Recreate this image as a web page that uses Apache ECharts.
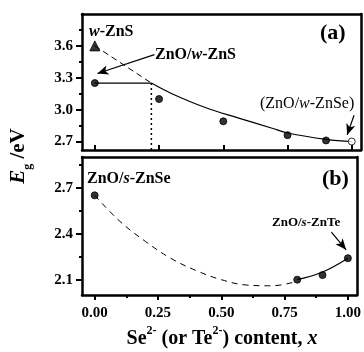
<!DOCTYPE html>
<html>
<head>
<meta charset="utf-8">
<script src="https://cdn.jsdelivr.net/npm/echarts@6/dist/echarts.min.js"></script>
<style>html,body{margin:0;padding:0;background:#fff}#c{width:364px;height:352px}</style>
</head>
<body>
<div id="c"></div>
<script>
// ---- data ----
var xTicks = [0, 0.25, 0.5, 0.75, 1.0];
var xMinorTicks = [0.125, 0.375, 0.625, 0.875];
var topYTicks = [2.7, 3.0, 3.3, 3.6];
var topYMinor = [2.85, 3.15, 3.45, 3.75];
var botYTicks = [2.1, 2.4, 2.7];
var botYMinor = [2.25, 2.55, 2.85];

// panel (a): ZnO/w-ZnS(1-x)Se(x)
var topPoints = [[0, 3.25], [0.25, 3.10], [0.5, 2.89], [0.75, 2.76], [0.9, 2.71]];
var topOpenPoint = [[1.0, 2.70]];
var wZnSPoint = [[0, 3.60]];
var topFitCurve = [[0.22, 3.25], [0.30, 3.15], [0.43, 3.02], [0.56, 2.92], [0.69, 2.825], [0.75, 2.78], [0.90, 2.72], [1.0, 2.70]];
var topDashed = [[0, 3.60], [0.22, 3.25]];
var topHoriz = [[0, 3.25], [0.22, 3.25]];
var topDotted = [[0.22, 3.25], [0.22, 2.62]];

// panel (b): ZnO/s-ZnSe(1-x)Te(x)
var botPoints = [[0, 2.65], [0.8, 2.10], [0.9, 2.13], [1.0, 2.24]];
var botDashedCurve = [[0, 2.65], [0.1, 2.48], [0.2, 2.35], [0.3, 2.24], [0.4, 2.16], [0.5, 2.10], [0.6, 2.065], [0.7, 2.06], [0.8, 2.09]];
var botSolidCurve = [[0.8, 2.10], [0.9, 2.15], [1.0, 2.24]];

var FONT = 'Liberation Serif';
var chart = echarts.init(document.getElementById('c'), null, {renderer: 'canvas'});
var frameLine = {show: true, onZero: false, lineStyle: {color: '#000', width: 2.5}};
var noLine = {show: false, onZero: false};

function xAxisCfg(grid, labels, inside, len, vals, pos, line) {
  return {
    type: 'value', gridIndex: grid, min: -0.05, max: 1.036, position: pos || 'bottom',
    axisLine: line ? frameLine : noLine, splitLine: {show: false},
    axisTick: {show: vals.length > 0, inside: inside, length: len, customValues: vals, lineStyle: {color: '#000', width: 2}},
    axisLabel: {show: labels, customValues: vals, margin: 11, color: '#000', fontFamily: FONT, fontWeight: 'bold', fontSize: 15,
      formatter: function (v) { return v.toFixed(2); }}
  };
}
function yAxisCfg(grid, min, max, labels, len, vals, pos, line) {
  return {
    type: 'value', gridIndex: grid, min: min, max: max, position: pos || 'left',
    axisLine: line ? frameLine : noLine, splitLine: {show: false},
    axisTick: {show: vals.length > 0, inside: false, length: len, customValues: vals, lineStyle: {color: '#000', width: 2}},
    axisLabel: {show: labels, customValues: vals, margin: 9, color: '#000', fontFamily: FONT, fontWeight: 'bold', fontSize: 15,
      formatter: function (v) { return v.toFixed(1); }}
  };
}

function lineS(x, y, data, type, width, smooth) {
  return {type: 'line', xAxisIndex: x, yAxisIndex: y, data: data, smooth: smooth || false, showSymbol: false, symbol: 'none',
    lineStyle: {color: '#000', width: width, type: type}, silent: true, animation: false, z: 2};
}
function dots(x, y, data, symbol, size, fill) {
  return {type: 'scatter', xAxisIndex: x, yAxisIndex: y, data: data, symbol: symbol, symbolSize: size,
    itemStyle: {color: fill, borderColor: '#000', borderWidth: 1}, silent: true, animation: false, z: 5};
}
function arrow(x, y, from, to) {
  return {type: 'line', xAxisIndex: x, yAxisIndex: y, data: [], silent: true, animation: false,
    markLine: {silent: true, animation: false, symbol: ['none', 'arrow'], symbolSize: [7, 11],
      lineStyle: {color: '#000', width: 1.2, type: 'solid'}, label: {show: false},
      data: [[{coord: from}, {coord: to}]]}};
}

function txt(x, y, text, rich, extra) {
  var s = Object.assign({x: x, y: y, text: text, verticalAlign: 'middle', fontFamily: FONT, fontWeight: 'bold', fontSize: 16, fill: '#000', rich: rich || {}}, extra || {});
  return {type: 'text', style: s, z: 10};
}
var richB = {
  b: {fontFamily: FONT, fontWeight: 'bold', fontSize: 16},
  i: {fontFamily: FONT, fontWeight: 'bold', fontStyle: 'italic', fontSize: 16}
};
var richR = {
  r: {fontFamily: FONT, fontWeight: 'normal', fontSize: 16},
  i: {fontFamily: FONT, fontWeight: 'normal', fontStyle: 'italic', fontSize: 16}
};
var richS = {
  b: {fontFamily: FONT, fontWeight: 'bold', fontSize: 13},
  i: {fontFamily: FONT, fontWeight: 'bold', fontStyle: 'italic', fontSize: 13}
};

var option = {
  backgroundColor: '#fff',
  animation: false,
  grid: [
    {left: 82, top: 14, right: 3, height: 136, show: false},
    {left: 82, top: 157, right: 3, height: 138, show: false}
  ],
  xAxis: [
    xAxisCfg(0, false, true, 5, xTicks, 'bottom', true),
    xAxisCfg(1, true, false, 5, xTicks, 'bottom', true),
    xAxisCfg(1, false, false, 3, xMinorTicks),
    xAxisCfg(0, false, false, 0, [], 'top', true),
    xAxisCfg(1, false, false, 0, [], 'top', true)
  ],
  yAxis: [
    yAxisCfg(0, 2.62, 3.9, true, 6, topYTicks, 'left', true),
    yAxisCfg(0, 2.62, 3.9, false, 3, topYMinor),
    yAxisCfg(1, 2.0, 2.9, true, 6, botYTicks, 'left', true),
    yAxisCfg(1, 2.0, 2.9, false, 3, botYMinor),
    yAxisCfg(0, 2.62, 3.9, false, 0, [], 'right', true),
    yAxisCfg(1, 2.0, 2.9, false, 0, [], 'right', true)
  ],
  series: [
    lineS(0, 0, topFitCurve, 'solid', 1.2, 0.4),
    lineS(0, 0, topDashed, [6, 4], 1, false),
    lineS(0, 0, topHoriz, 'solid', 1.2, false),
    lineS(0, 0, topDotted, [2, 3], 1.5, false),
    dots(0, 0, topPoints, 'circle', 7, '#000'),
    dots(0, 0, topOpenPoint, 'circle', 7, '#fff'),
    dots(0, 0, wZnSPoint, 'triangle', 10, '#000'),
    arrow(0, 0, [0.232, 3.518], [0.01, 3.34]),
    arrow(0, 0, [1.009, 2.947], [0.982, 2.762]),
    lineS(1, 2, botDashedCurve, [6, 5], 1, 0.4),
    lineS(1, 2, botSolidCurve, 'solid', 1.2, 0.4),
    dots(1, 2, botPoints, 'circle', 7, '#000'),
    arrow(1, 2, [0.935, 2.41], [0.993, 2.295])
  ],
  graphic: [
    txt(89, 32, '{i|w}{b|-ZnS}', richB),
    txt(155, 55, '{b|ZnO/}{i|w}{b|-ZnS}', richB),
    txt(320, 33, '(a)', null, {fontSize: 22}),
    txt(260, 104, '{r|(ZnO/}{i|w}{r|-ZnSe)}', richR),
    txt(87, 179, '{b|ZnO/}{i|s}{b|-ZnSe}', richB),
    txt(322, 179, '(b)', null, {fontSize: 22}),
    txt(272, 223, '{b|ZnO/}{i|s}{b|-ZnTe}', richS),
    txt(222, 337, '{a|Se}{sup|2-}{a| (or Te}{sup|2-}{a|) content, }{ai|x}', {
      a: {fontFamily: FONT, fontWeight: 'bold', fontSize: 20, lineHeight: 24, verticalAlign: 'bottom'},
      ai: {fontFamily: FONT, fontWeight: 'bold', fontStyle: 'italic', fontSize: 20, lineHeight: 24, verticalAlign: 'bottom'},
      sup: {fontFamily: FONT, fontWeight: 'bold', fontSize: 12, lineHeight: 24, verticalAlign: 'top'}
    }, {align: 'center'}),
    {type: 'text', x: 21, y: 156, rotation: Math.PI / 2, z: 10,
      style: {text: '{e|E}{g|g}{a| /eV}', align: 'center', verticalAlign: 'middle', fill: '#000',
        rich: {
          e: {fontFamily: FONT, fontWeight: 'bold', fontStyle: 'italic', fontSize: 21, lineHeight: 26, verticalAlign: 'top'},
          g: {fontFamily: FONT, fontWeight: 'bold', fontSize: 12, lineHeight: 26, verticalAlign: 'bottom'},
          a: {fontFamily: FONT, fontWeight: 'bold', fontSize: 21, lineHeight: 26, verticalAlign: 'top'}
        }}}
  ]
};
chart.setOption(option);
</script>
</body>
</html>
